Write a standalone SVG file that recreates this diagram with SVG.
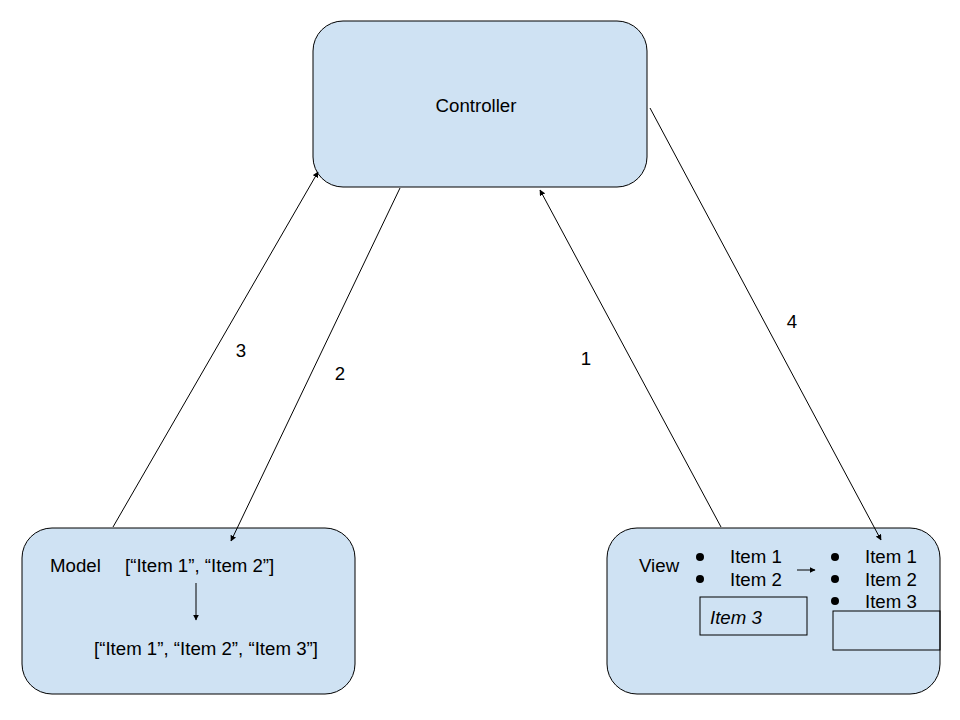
<svg xmlns="http://www.w3.org/2000/svg" width="960" height="720" viewBox="0 0 960 720">
<style>
.box{fill:#cfe2f3;stroke:#000;stroke-width:1}
.t{font-family:"Liberation Sans",Arial,sans-serif;font-size:18.67px;fill:#000}
.ln{stroke:#000;stroke-width:1;fill:none}
</style>
<defs>
<marker id="ah" viewBox="0 0 10 10" refX="9" refY="5" markerWidth="6" markerHeight="6" markerUnits="userSpaceOnUse" orient="auto">
<path d="M0,0 L10,5 L0,10 z" fill="#000"/>
</marker>
</defs>
<rect width="960" height="720" fill="#fff"/>
<g id="controller">
<rect class="box" x="313" y="21" width="334" height="166" rx="30"/>
<text class="t" x="476" y="112" text-anchor="middle">Controller</text>
</g>
<g id="model">
<rect class="box" x="22" y="528" width="333" height="166" rx="30"/>
<text class="t" x="50" y="572">Model</text>
<text class="t" x="125" y="572">[“Item 1”, “Item 2”]</text>
<line class="ln" x1="196" y1="583" x2="196" y2="620" marker-end="url(#ah)"/>
<text class="t" x="94" y="655">[“Item 1”, “Item 2”, “Item 3”]</text>
</g>
<g id="view">
<rect class="box" x="607" y="528" width="333" height="166" rx="30"/>
<text class="t" x="639" y="572">View</text>
<circle cx="700" cy="557" r="4"/>
<circle cx="700" cy="579" r="4"/>
<text class="t" x="730" y="563">Item 1</text>
<text class="t" x="730" y="586">Item 2</text>
<line class="ln" x1="797" y1="570" x2="815" y2="570" marker-end="url(#ah)"/>
<circle cx="835" cy="557" r="4"/>
<circle cx="835" cy="579" r="4"/>
<circle cx="835" cy="601" r="4"/>
<text class="t" x="865" y="563">Item 1</text>
<text class="t" x="865" y="586">Item 2</text>
<text class="t" x="865" y="608">Item 3</text>
<rect x="700" y="597" width="107" height="38" fill="none" stroke="#000" stroke-width="1"/>
<text class="t" x="710" y="624" font-style="italic">Item 3</text>
<rect x="833" y="611" width="107" height="39" fill="none" stroke="#000" stroke-width="1"/>
</g>
<g id="connectors">
<line class="ln" x1="113" y1="527" x2="318" y2="172" marker-end="url(#ah)"/>
<line class="ln" x1="400" y1="188" x2="231" y2="541" marker-end="url(#ah)"/>
<line class="ln" x1="721" y1="527" x2="540" y2="190" marker-end="url(#ah)"/>
<line class="ln" x1="650" y1="108" x2="881" y2="540" marker-end="url(#ah)"/>
<text class="t" x="241" y="357" text-anchor="middle">3</text>
<text class="t" x="340" y="380" text-anchor="middle">2</text>
<text class="t" x="586" y="365" text-anchor="middle">1</text>
<text class="t" x="792" y="328" text-anchor="middle">4</text>
</g>
</svg>
